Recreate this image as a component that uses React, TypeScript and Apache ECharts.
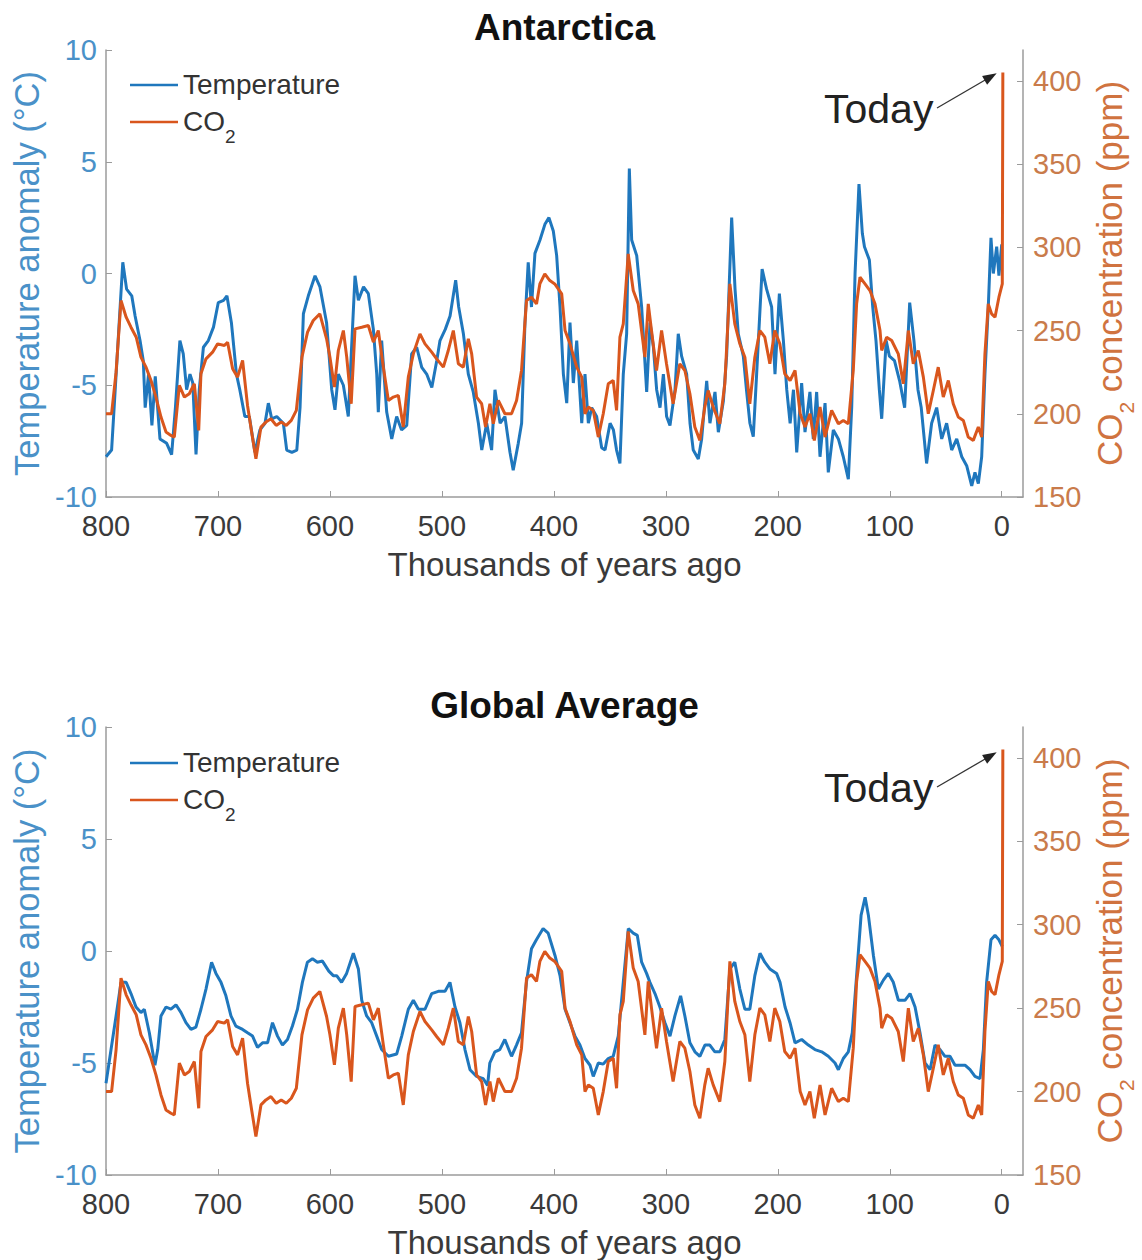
import React, { useEffect, useRef } from "react";
import * as echarts from "echarts";

const xTickValues = [0, 100, 200, 300, 400, 500, 600, 700, 800];
const co2TickValues = [150, 200, 250, 300, 350, 400];

// CO2 record (ppm), ages in thousands of years ago
const co2Ages = [
  800, 795, 791, 786.6, 782, 777.7, 773, 768.8, 764.3, 759.8, 755.4, 750.9, 746.4, 742, 739, 734.5, 730, 725.6, 721.1, 717.2,
  715.2, 710.7, 704.8, 700.3, 694.3, 691.4, 686.9, 682.5, 678, 673.6, 669.7, 666.1, 661.6, 657.2, 652.7, 648, 643.5, 639, 634.5, 630,
  625, 620, 614.9, 609, 603, 600, 596, 592.5, 588, 585, 581, 577.6, 571.6, 565.7, 561.2, 556.8, 552.3, 547.8, 543.4, 538.9,
  534.5, 530, 525.5, 519.6, 515.1, 509.1, 504.7, 498.7, 494.3, 489.8, 485.3, 480.9, 476.4, 473.4, 469, 464.5, 461, 457.1, 454.1, 449.6,
  443.7, 437.8, 433.3, 428.9, 424.4, 420, 415.5, 412.5, 408.1, 403.6, 399.2, 393, 390, 385.6, 379.6, 375.1, 372.2, 369.2, 364.8, 360.3,
  355.9, 351.4, 347, 344, 341, 338, 333.6, 329.1, 324.7, 318.7, 315.7, 312.8, 308.3, 303.8, 299.4, 293.5, 287.5, 283, 278.5, 274.1,
  269.6, 265.2, 262.2, 257.7, 251.8, 247.3, 242.8, 238.4, 233.9, 229.4, 225, 220.5, 216, 211.6, 207.1, 202.7, 198.2, 193.8, 189, 184.6,
  180, 175.7, 171.3, 167.4, 162.3, 157.8, 151.9, 145.9, 141.5, 137, 132.6, 129.6, 126.6, 122.1, 117.7, 113.2, 108.7, 107.2, 102.8, 98.3,
  92.4, 87.9, 83.4, 79, 74.5, 70, 65.6, 61.1, 56.7, 52.2, 47.7, 43.3, 38.8, 34.3, 29.9, 25.4, 20.9, 17.9, 15, 12,
  9, 6, 2.5, -0.5, -1,
];
const co2Values = [
  200, 200, 225, 268, 258, 252, 246, 234, 228, 220, 210, 198, 189, 187, 186, 217, 210, 212, 218, 190,
  224, 233, 237, 242, 241, 243, 227, 222, 232, 205, 188, 173, 192, 195, 197, 193, 195, 193, 196, 202,
  234, 249, 256, 260, 245, 234, 216, 238, 250, 234, 206, 251, 252, 253, 243, 250, 228, 208, 210, 211,
  192, 222, 236, 248, 242, 237, 233, 228, 238, 250, 230, 228, 245, 236, 210, 206, 192, 206, 194, 208,
  200, 200, 208, 226, 268, 270, 266, 278, 284, 280, 278, 272, 250, 242, 228, 222, 200, 204, 202, 186,
  200, 218, 220, 202, 246, 254, 296, 274, 266, 234, 266, 250, 226, 250, 230, 206, 230, 226, 212, 192,
  184, 204, 214, 204, 194, 218, 278, 254, 242, 234, 206, 234, 250, 246, 230, 250, 242, 224, 220, 226,
  200, 192, 200, 184, 204, 186, 202, 194, 196, 194, 226, 266, 282, 278, 274, 266, 250, 238, 246, 244,
  236, 218, 250, 230, 238, 222, 200, 214, 228, 210, 220, 206, 198, 196, 186, 184, 192, 186, 236, 266,
  260, 258, 270, 278, 405,
];

// Antarctic temperature anomaly (°C)
const antTempAges = [
  800, 795, 785, 781.6, 777, 774, 769.6, 766.7, 765, 762, 759, 756, 751.8, 745.8, 741.4, 738, 734, 731, 728, 725,
  722.5, 719.6, 716.7, 713, 708.6, 704, 699.7, 695, 692, 688, 683.5, 680.5, 676, 672, 667, 662.5, 658, 655, 652, 647.5,
  641.6, 638.6, 634, 629.6, 626.7, 623.7, 619.3, 613.3, 608.9, 603, 598.4, 595.5, 592.5, 588, 583.6, 577.6, 574.6, 570, 565.7, 561.2,
  558.2, 556.8, 553.8, 549.3, 544.8, 540.4, 536, 531.4, 527, 522.5, 518, 513.6, 509, 504.6, 501.7, 497, 492.7, 487.7, 485, 480.8,
  476.4, 472, 467.4, 464.4, 460, 455.6, 452.6, 448, 443.7, 439.2, 436.3, 431.8, 428.8, 425.8, 422.9, 420, 416.9, 412.4, 408, 404.4,
  400.5, 397.5, 394.5, 391.5, 388.5, 385.6, 382.6, 379.6, 375.1, 372.2, 369.2, 366.2, 361.8, 357.3, 354.3, 349.8, 346.8, 344, 341, 338,
  335, 332.6, 330.5, 326, 321.6, 317.1, 314.1, 311.1, 308.2, 305.2, 302.2, 299.3, 296.3, 291.8, 288.9, 285.9, 281.4, 278.4, 275.5, 271,
  268, 263.5, 260.6, 256.1, 253.1, 248.6, 245.7, 241.2, 238.2, 235.3, 230.8, 227.8, 224.9, 221.9, 218.9, 214, 210, 205.5, 202.5, 198.6,
  195, 192, 189, 186, 183.1, 178.7, 175.7, 171.3, 168.3, 165.3, 162.3, 157.8, 154.9, 150.4, 145.9, 141.5, 137, 134, 131, 127.5,
  124.5, 122.6, 118.2, 115.2, 112.3, 109.3, 107.2, 103.2, 100.3, 95.8, 91.2, 86.7, 82.2, 78.4, 74.8, 71.9, 67.1, 62.6, 58.1, 53.6,
  49.2, 44.7, 40.2, 35.7, 31.3, 26.8, 23.9, 20.9, 17.9, 15, 12, 9.6, 7.5, 4.5, 2.5, 0,
];
const antTempValues = [
  -8.2, -7.9, 0.5, -0.7, -1.0, -1.9, -3.0, -3.9, -6.0, -4.5, -6.8, -4.6, -7.4, -7.6, -8.1, -6.0, -3.0, -3.6, -5.2, -4.5,
  -4.9, -8.1, -5.2, -3.3, -3.0, -2.4, -1.3, -1.2, -1.0, -2.2, -4.5, -5.2, -6.4, -6.4, -8.0, -7.0, -6.7, -5.8, -6.5, -6.4,
  -6.7, -7.9, -8.0, -7.9, -6.0, -1.8, -1.0, -0.1, -0.6, -2.2, -5.2, -6.1, -4.5, -5.0, -6.4, -0.1, -1.2, -0.6, -0.9, -2.5,
  -4.5, -6.2, -3.0, -6.2, -7.4, -6.4, -7.0, -6.8, -3.6, -3.3, -4.2, -4.5, -5.1, -3.9, -3.0, -2.5, -1.9, -0.3, -1.5, -2.7,
  -4.5, -5.3, -6.7, -7.9, -6.7, -7.9, -5.2, -6.7, -6.4, -8.0, -8.8, -7.6, -6.7, -2.2, 0.5, -1.5, 0.9, 1.5, 2.2, 2.5,
  1.9, 0.8, -1.5, -4.5, -5.8, -2.2, -4.9, -3.0, -6.7, -4.5, -6.7, -6.0, -6.4, -7.8, -7.9, -6.7, -7.0, -7.9, -8.5, -4.5,
  -2.7, 4.7, 1.5, 0.8, -1.5, -5.3, -2.2, -3.3, -5.2, -6.0, -4.5, -6.4, -6.8, -5.2, -2.7, -3.7, -4.5, -6.7, -7.9, -8.3,
  -7.4, -4.8, -6.7, -5.3, -7.1, -5.7, -3.7, 2.5, -0.7, -2.7, -3.7, -5.3, -6.7, -7.3, -4.5, 0.2, -0.7, -1.5, -4.5, -0.9,
  -3.0, -5.2, -6.7, -5.2, -8.0, -4.9, -7.1, -5.3, -7.4, -5.3, -8.2, -5.8, -8.9, -7.0, -7.4, -8.2, -9.2, -6.0, 0.0, 4.0,
  1.8, 1.2, 0.6, -1.5, -3.0, -5.2, -6.5, -3.0, -3.7, -3.9, -4.8, -6.0, -1.3, -3.0, -5.2, -6.0, -8.5, -6.7, -6.0, -7.4,
  -6.7, -7.9, -7.4, -8.2, -8.6, -9.5, -8.9, -9.4, -8.2, -4.5, -1.5, 1.6, 0.0, 1.2, -0.1, 1.3,
];

// Global average temperature anomaly (°C)
const globTempAges = [
  800, 795.5, 791, 786.6, 782, 777.7, 773.2, 768.8, 765.8, 761.3, 756.3, 753.8, 750.9, 746.4, 742, 737.5, 733, 728.6, 724.1, 719.7,
  715.2, 710.7, 705.7, 701.8, 697.3, 692.9, 688.4, 684, 678, 673.6, 669.1, 664.7, 660.2, 655.7, 651.3, 646.8, 642.4, 637.9, 633.5, 629,
  624.6, 620.1, 615.6, 611.2, 606.7, 601, 597, 594, 589.6, 585.1, 579.1, 574.6, 571.6, 567.2, 562.7, 558.2, 553.8, 547.8, 540.4, 535.9,
  530, 525.5, 521, 515.1, 509.1, 503.2, 497.2, 492.8, 488.3, 483.9, 479.4, 474.9, 469, 463, 459.2, 457.2, 452.7, 448.3, 443.8, 437.8,
  433.4, 428.9, 424.5, 420, 415.6, 409.6, 405.1, 399, 394.5, 390, 385.6, 381.1, 376.7, 372.2, 367.7, 364.8, 360.3, 355.9, 351.4, 347,
  342.5, 338, 333.5, 329.1, 325.5, 321.6, 317.2, 314.2, 309.7, 305.3, 300.8, 296.3, 291.9, 286.8, 283, 278.5, 274, 269.6, 265.1, 260.7,
  256.2, 251.7, 247.3, 242.8, 238.4, 233.9, 229.4, 225, 220.5, 215.9, 211.6, 207.1, 201.1, 198, 193.5, 189.1, 184.6, 178.7, 172.7, 166.8,
  160.8, 154.9, 148.9, 145.9, 141.5, 137, 133.5, 129.6, 125.6, 122, 119.1, 114.6, 110.2, 105.7, 101.3, 96.8, 92.3, 86.4, 81.9, 77.4,
  73, 68.5, 64, 59.6, 55.1, 50.7, 46.2, 41.7, 37.3, 32.8, 28.3, 23.9, 19.4, 16.4, 13.5, 9.6, 6, 2.5, -0.5,
];
const globTempValues = [
  -5.9, -4.4, -2.9, -1.4, -1.4, -1.9, -2.5, -2.75, -2.6, -3.65, -5.1, -4.4, -2.9, -2.5, -2.6, -2.4, -2.75, -3.2, -3.5, -3.4,
  -2.6, -1.7, -0.5, -1.0, -1.4, -2.0, -2.9, -3.35, -3.5, -3.65, -3.8, -4.3, -4.1, -4.1, -3.2, -3.8, -4.2, -3.95, -3.35, -2.6,
  -1.4, -0.5, -0.35, -0.5, -0.45, -0.9, -1.1, -1.1, -1.4, -1.0, -0.1, -0.8, -2.2, -2.9, -3.2, -3.8, -4.4, -4.7, -4.6, -3.8,
  -2.6, -2.2, -2.6, -2.6, -1.9, -1.8, -1.8, -1.4, -2.5, -3.2, -4.4, -5.3, -5.6, -5.7, -6.0, -5.0, -4.5, -4.4, -3.95, -4.7,
  -4.2, -3.65, -1.4, 0.1, 0.5, 1.0, 0.8, -0.2, -1.1, -2.6, -3.2, -3.8, -4.2, -4.8, -5.1, -5.6, -5.0, -5.05, -4.8, -4.7,
  -3.8, -1.4, 1.0, 0.8, 0.7, -0.5, -1.0, -1.4, -1.9, -2.5, -3.2, -3.8, -2.9, -2.0, -2.9, -4.1, -4.5, -4.7, -4.2, -4.2,
  -4.5, -4.5, -3.95, -0.8, -0.5, -1.7, -2.6, -2.6, -1.1, -0.1, -0.5, -0.8, -1.0, -1.4, -2.5, -3.2, -4.1, -3.95, -4.2, -4.4,
  -4.5, -4.7, -5.0, -5.3, -4.8, -4.5, -3.65, -1.1, 1.6, 2.4, 1.6, -0.2, -1.7, -1.3, -1.0, -1.4, -2.2, -2.2, -1.9, -2.5,
  -3.65, -5.0, -5.3, -4.2, -4.4, -4.7, -4.7, -5.1, -5.1, -5.1, -5.3, -5.6, -5.7, -4.4, -1.4, 0.5, 0.7, 0.5, 0.2,
];

const FONT = '"Liberation Sans", Arial, Helvetica, sans-serif';
const BLUE = "#1f77bd";
const ORANGE = "#d9561d";
const AXIS_BLUE = "#4a91c8";
const AXIS_ORANGE = "#c97b4b";
const AXIS_GRAY = "#9b9b9b";
const TEXT_DARK = "#3a3a3a";

const pairs = (xs: number[], ys: number[]) => xs.map((x, i) => [x, ys[i]]);

const GRID_TOPS = [50, 727];
const GRID_HEIGHTS = [447, 448];
const ANNOT_OFFSET = [0, 679];

function buildOption() {
  const grids = [0, 1].map((i) => ({
    left: 106,
    top: GRID_TOPS[i],
    width: 917,
    height: GRID_HEIGHTS[i],
    containLabel: false,
    outerBoundsMode: "none",
  }));
  const xAxes = [0, 1].map((i) => ({
    type: "value",
    gridIndex: i,
    inverse: true,
    min: -19,
    max: 800,
    axisLine: { show: true, onZero: false, lineStyle: { color: AXIS_GRAY, width: 1.5 } },
    axisTick: { show: true, inside: true, length: 6, customValues: xTickValues, lineStyle: { color: AXIS_GRAY } },
    axisLabel: { customValues: xTickValues, fontSize: 29, color: TEXT_DARK, margin: 14, fontFamily: FONT },
    splitLine: { show: false },
    name: "Thousands of years ago",
    nameLocation: "middle",
    nameGap: 50,
    nameTextStyle: { fontSize: 33, lineHeight: 34, color: TEXT_DARK, fontFamily: FONT },
  }));
  const yAxes: any[] = [];
  [0, 1].forEach((i) => {
    yAxes.push({
      type: "value",
      gridIndex: i,
      position: "left",
      min: -10,
      max: 10,
      interval: 5,
      axisLine: { show: true, onZero: false, lineStyle: { color: AXIS_GRAY, width: 1.5 } },
      axisTick: { show: true, inside: true, length: 6, lineStyle: { color: AXIS_GRAY } },
      axisLabel: { fontSize: 29, color: AXIS_BLUE, margin: 9, fontFamily: FONT },
      splitLine: { show: false },
      name: "Temperature anomaly (°C)",
      nameLocation: "middle",
      nameRotate: 90,
      nameGap: 59,
      nameTextStyle: { fontSize: 34.5, color: AXIS_BLUE, fontFamily: FONT },
    });
    yAxes.push({
      type: "value",
      gridIndex: i,
      position: "right",
      min: 150,
      max: 418.5,
      axisLine: { show: true, onZero: false, lineStyle: { color: AXIS_GRAY, width: 1.5 } },
      axisTick: { show: true, inside: true, length: 6, customValues: co2TickValues, lineStyle: { color: AXIS_GRAY } },
      axisLabel: { customValues: co2TickValues, fontSize: 29, color: AXIS_ORANGE, margin: 10, fontFamily: FONT },
      splitLine: { show: false },
      name: "{a|CO}{b|2}{a| concentration (ppm)}",
      nameLocation: "middle",
      nameRotate: 90,
      nameGap: 65,
      nameTextStyle: {
        rich: {
          a: { fontSize: 35, lineHeight: 36, verticalAlign: "top", color: "#d0733f", fontFamily: FONT },
          b: { fontSize: 21, lineHeight: 10, padding: [24, 0, 0, 0], verticalAlign: "top", color: "#d0733f", fontFamily: FONT },
        },
      },
    });
  });

  const series: any[] = [];
  const temps = [pairs(antTempAges, antTempValues), pairs(globTempAges, globTempValues)];
  const co2 = pairs(co2Ages, co2Values);
  [0, 1].forEach((i) => {
    series.push({
      type: "line",
      name: "Temperature",
      xAxisIndex: i,
      yAxisIndex: 2 * i,
      data: temps[i],
      showSymbol: false,
      symbol: "none",
      lineStyle: { width: 3, color: BLUE },
      itemStyle: { color: BLUE },
      z: 2,
    });
    series.push({
      type: "line",
      name: "CO2",
      xAxisIndex: i,
      yAxisIndex: 2 * i + 1,
      data: co2,
      showSymbol: false,
      symbol: "none",
      lineStyle: { width: 3, color: ORANGE },
      itemStyle: { color: ORANGE },
      z: 3,
    });
  });

  const legends = [0, 1].map((i) => ({
    orient: "vertical",
    left: 130,
    top: 70 + (i === 0 ? 0 : 678),
    padding: 0,
    itemWidth: 48,
    itemHeight: 2.5,
    itemGap: 9,
    icon: "rect",
    selectedMode: false,
    data: ["Temperature", "CO2"],
    formatter: (n: string) => (n === "CO2" ? "{a|CO}{b|2}" : "{a|Temperature}"),
    textStyle: {
      rich: {
        a: { fontSize: 28, lineHeight: 30, verticalAlign: "top", color: "#333333", fontFamily: FONT },
        b: { fontSize: 19, lineHeight: 8, padding: [20, 0, 0, 0], verticalAlign: "top", color: "#333333", fontFamily: FONT },
      },
    },
  }));

  const graphic: any[] = [];
  const titles = ["Antarctica", "Global Average"];
  [0, 1].forEach((i) => {
    const off = ANNOT_OFFSET[i];
    graphic.push({
      type: "text",
      x: 564.5,
      y: [27, 705][i],
      style: { text: titles[i], font: `bold 37px ${FONT}`, fill: "#111111", align: "center", verticalAlign: "middle" },
    });
    graphic.push({
      type: "text",
      x: 824,
      y: 108.5 + off,
      style: { text: "Today", font: `41px ${FONT}`, fill: "#222222", align: "left", verticalAlign: "middle" },
    });
    graphic.push({
      type: "line",
      shape: { x1: 937, y1: 108 + off, x2: 986, y2: 79.5 + off },
      style: { stroke: "#333333", lineWidth: 1.3 },
    });
    graphic.push({
      type: "polygon",
      shape: { points: [[996.7, 73.3 + off], [987.1, 84.7 + off], [982.1, 76.1 + off]] },
      style: { fill: "#222222" },
    });
  });

  return {
    animation: false,
    backgroundColor: "#ffffff",
    textStyle: { fontFamily: FONT },
    grid: grids,
    xAxis: xAxes,
    yAxis: yAxes,
    legend: legends,
    series,
    graphic,
  };
}

export default function App() {
  const ref = useRef<HTMLDivElement>(null);
  useEffect(() => {
    if (!ref.current) return;
    const chart = echarts.init(ref.current, null, { renderer: "svg" });
    chart.setOption(buildOption() as any);
    return () => chart.dispose();
  }, []);
  return (
    <div
      ref={ref}
      style={{ position: "absolute", left: 0, top: 0, width: 1142, height: 1260, background: "#fff" }}
    />
  );
}
